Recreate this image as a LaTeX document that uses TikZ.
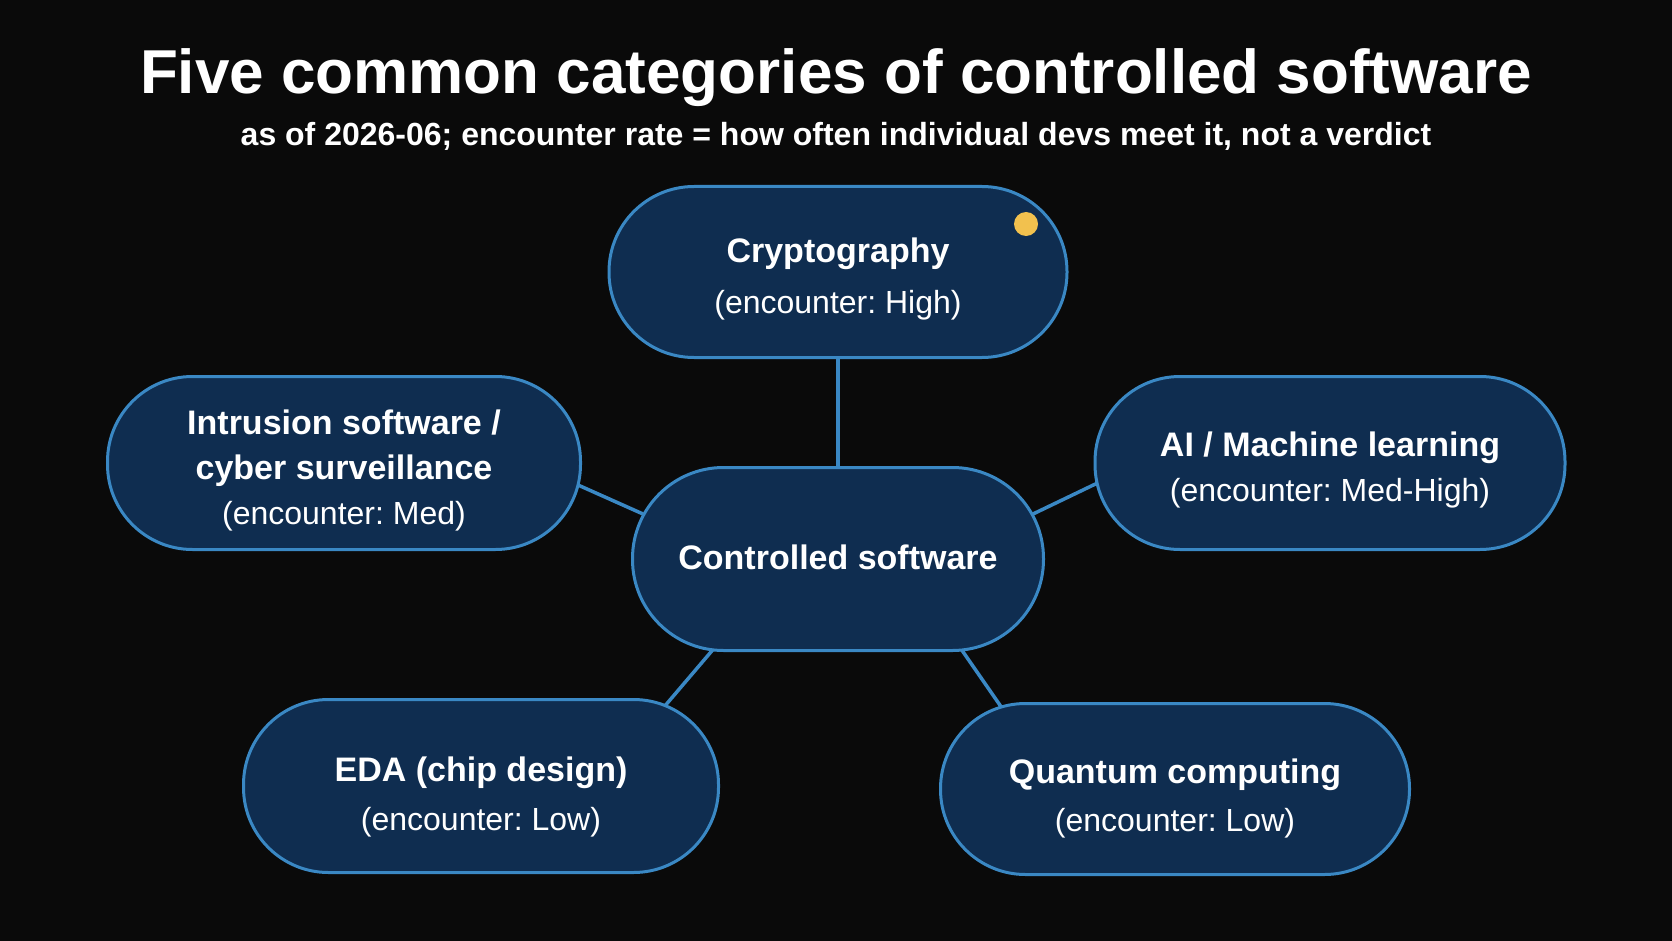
\documentclass[tikz,border=0pt]{standalone}
\usepackage{fontspec}
\setmainfont{Liberation Sans}
\frenchspacing
\usetikzlibrary{backgrounds,calc}
\definecolor{bgc}{HTML}{0A0A0A}
\definecolor{boxfill}{HTML}{0F2D50}
\definecolor{boxline}{HTML}{3A88C4}
\definecolor{dotc}{HTML}{F2C14E}
\begin{document}
\begin{tikzpicture}[x=1pt,y=1pt,
  pill/.style={draw=boxline, fill=boxfill, line width=3pt, rounded corners=85pt,
    minimum height=171pt, inner sep=0pt},
  lbl/.style={align=center, text=white, inner sep=0pt,
    font=\fontsize{34}{45}\selectfont\bfseries},
  link/.style={draw=boxline, line width=3.5pt}]
\node[text=white, font=\fontsize{62}{70}\selectfont\bfseries, anchor=base] (title) at (836,-94) {Five common categories of controlled software};
\node[text=white, font=\fontsize{32}{36}\selectfont\bfseries, anchor=base] (subtitle) at (836,-146) {as of 2026-06; encounter rate = how often individual devs meet it, not a verdict};

\node[pill, minimum width=458pt] (crypt) at (838,-272) {};
\node[pill, minimum width=473pt, minimum height=173pt] (intr) at (344,-463) {};
\node[pill, minimum width=470pt, minimum height=173pt] (ai) at (1330,-463) {};
\node[pill, minimum width=411pt, minimum height=183pt, rounded corners=91pt] (ctrl) at (838,-559) {};
\node[pill, minimum width=475pt, minimum height=173pt] (eda) at (481,-786) {};
\node[pill, minimum width=469pt] (quant) at (1175,-789) {};

\node[lbl] (cryptT) at (838,-279) {Cryptography\\[6pt]{\fontsize{32}{40}\selectfont\mdseries (encounter: High)}};
\node[lbl] (intrT) at (344,-470) {Intrusion software /\\cyber surveillance\\{\fontsize{32}{40}\selectfont\mdseries (encounter: Med)}};
\node[lbl] (aiT) at (1330,-470) {AI / Machine learning\\[0pt]{\fontsize{32}{40}\selectfont\mdseries (encounter: Med-High)}};
\node[lbl] (ctrlT) at (838,-557) {Controlled software};
\node[lbl] (edaT) at (481,-797) {EDA (chip design)\\[4pt]{\fontsize{32}{40}\selectfont\mdseries (encounter: Low)}};
\node[lbl] (quantT) at (1175,-798) {Quantum computing\\[3pt]{\fontsize{32}{40}\selectfont\mdseries (encounter: Low)}};
\fill[dotc] (1026,-224) circle (12pt);

\begin{pgfonlayer}{background}
\path[fill=bgc] (0,0) rectangle (1672,-941);
\draw[link] ([yshift=6pt]crypt.south) -- ([yshift=-6pt]ctrl.north);
\draw[link] ([shift={(-4pt,-22pt)}]intr.east) -- ([shift={(12pt,45pt)}]ctrl.west);
\draw[link] ([shift={(4pt,-20pt)}]ai.west) -- ([shift={(-12pt,45pt)}]ctrl.east);
\draw[link] ([shift={(183pt,-9pt)}]eda.north) -- ([shift={(-122pt,6pt)}]ctrl.south);
\draw[link] ([shift={(-171pt,-9pt)}]quant.north) -- ([shift={(121pt,6pt)}]ctrl.south);
\end{pgfonlayer}
\end{tikzpicture}
\end{document}
